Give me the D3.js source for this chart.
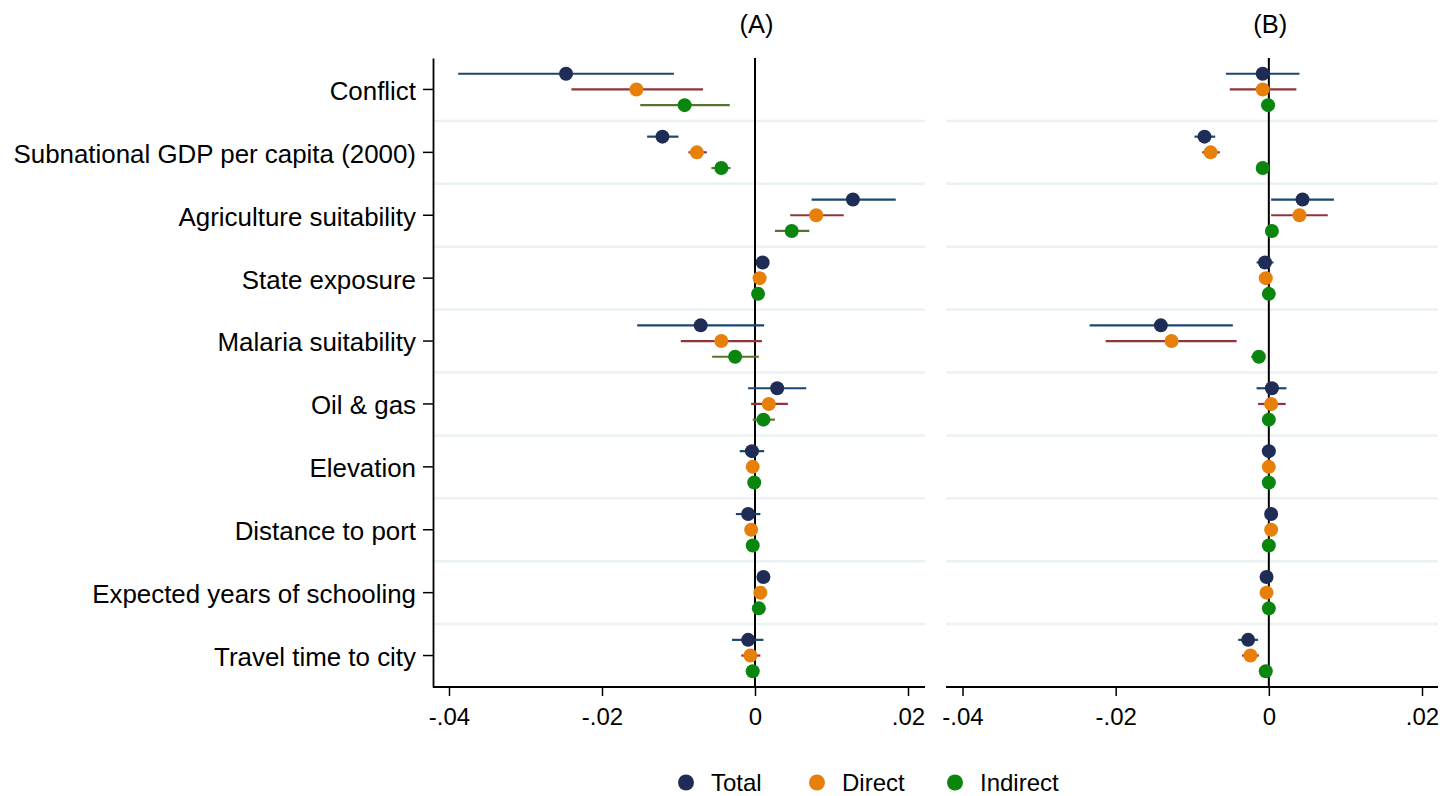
<!DOCTYPE html>
<html lang="en">
<head>
<meta charset="UTF-8">
<title>Total, direct and indirect effects</title>
<script src="https://d3js.org/d3.v7.min.js"></script>
<style>
    body { margin: 0; background: #fff; font-family: "Liberation Sans", Arial, Helvetica, sans-serif; }
    svg { display: block; }
</style>
</head>
<body>
<div id="chart"></div>
<script>
    // Categories, top to bottom
    const categories = [
        "Conflict",
        "Subnational GDP per capita (2000)",
        "Agriculture suitability",
        "State exposure",
        "Malaria suitability",
        "Oil & gas",
        "Elevation",
        "Distance to port",
        "Expected years of schooling",
        "Travel time to city"
    ];

    // [estimate, lower CI, upper CI] per category — panel (A)
    const totalA = [
        [-0.0247, -0.0388, -0.0106],
        [-0.0121, -0.0141, -0.0100],
        [ 0.0128,  0.0074,  0.0184],
        [ 0.0010,  0.0008,  0.0012],
        [-0.0071, -0.0154,  0.0012],
        [ 0.0029, -0.0009,  0.0067],
        [-0.0004, -0.0020,  0.0012],
        [-0.0009, -0.0025,  0.0007],
        [ 0.0011,  0.0009,  0.0013],
        [-0.0009, -0.0030,  0.0011]
    ];
    const directA = [
        [-0.0155, -0.0240, -0.0068],
        [-0.0076, -0.0087, -0.0063],
        [ 0.0080,  0.0046,  0.0116],
        [ 0.0006,  0.0004,  0.0008],
        [-0.0044, -0.0097,  0.0009],
        [ 0.0018, -0.0005,  0.0043],
        [-0.0003, -0.0008,  0.0003],
        [-0.0005, -0.0008, -0.0002],
        [ 0.0007,  0.0005,  0.0009],
        [-0.0006, -0.0018,  0.0007]
    ];
    const indirectA = [
        [-0.0092, -0.0150, -0.0033],
        [-0.0044, -0.0057, -0.0032],
        [ 0.0048,  0.0026,  0.0071],
        [ 0.0004,  0.0003,  0.0005],
        [-0.0026, -0.0056,  0.0005],
        [ 0.0011, -0.0003,  0.0026],
        [-0.0001, -0.0002,  0.0000],
        [-0.0003, -0.0004, -0.0002],
        [ 0.0005,  0.0004,  0.0006],
        [-0.0003, -0.0004, -0.0002]
    ];

    // panel (B)
    const totalB = [
        [-0.0008, -0.0056,  0.0040],
        [-0.0084, -0.0097, -0.0070],
        [ 0.0044,  0.0003,  0.0085],
        [-0.0005, -0.0016,  0.0006],
        [-0.0141, -0.0234, -0.0047],
        [ 0.0004, -0.0016,  0.0023],
        [ 0.0000, -0.0004,  0.0004],
        [ 0.0003, -0.0001,  0.0007],
        [-0.0003, -0.0005, -0.0001],
        [-0.0027, -0.0040, -0.0014]
    ];
    const directB = [
        [-0.0008, -0.0051,  0.0036],
        [-0.0076, -0.0087, -0.0064],
        [ 0.0040,  0.0003,  0.0077],
        [-0.0004, -0.0010,  0.0002],
        [-0.0127, -0.0213, -0.0042],
        [ 0.0003, -0.0014,  0.0022],
        [ 0.0000, -0.0003,  0.0003],
        [ 0.0003,  0.0000,  0.0006],
        [-0.0003, -0.0005, -0.0001],
        [-0.0024, -0.0035, -0.0013]
    ];
    const indirectB = [
        [-0.0001, -0.0002,  0.0000],
        [-0.0008, -0.0009, -0.0007],
        [ 0.0004,  0.0003,  0.0005],
        [ 0.0000, -0.0001,  0.0001],
        [-0.0013, -0.0023, -0.0008],
        [ 0.0000, -0.0001,  0.0001],
        [ 0.0000, -0.0001,  0.0001],
        [ 0.0000, -0.0001,  0.0001],
        [ 0.0000, -0.0001,  0.0001],
        [-0.0004, -0.0005, -0.0003]
    ];

    const xTicks = [-0.04, -0.02, 0, 0.02];
    const seriesNames = ["Total", "Direct", "Indirect"];
    const panelTitles = ["(A)", "(B)"];

    // styles
    const dotColors = ["#1f2d56", "#e7800a", "#0a860f"];
    const ciColors = ["#1a476f", "#90353b", "#55752f"];
    const offsets = [-15.7, 0, 15.7];

    const W = 1443, H = 796;
    const plotTop = 58, plotBottom = 687;

    const svg = d3.select("#chart").append("svg")
        .attr("width", W)
        .attr("height", H);

    svg.append("rect").attr("width", W).attr("height", H).attr("fill", "#fff");

    const y = d3.scaleBand()
        .domain(categories)
        .range([plotTop, plotBottom]);

    const panels = [
        { title: panelTitles[0], series: [totalA, directA, indirectA], left: 433, right: 925, range: [449, 908], yAxis: true },
        { title: panelTitles[1], series: [totalB, directB, indirectB], left: 946, right: 1438, range: [962.5, 1422], yAxis: false }
    ];

    // Stata-style labels: -.04, 0, .02 (plain hyphen)
    const fmt = d => d === 0 ? "0" : d3.format(".2f")(d).replace("−", "-").replace("0.", ".");

    panels.forEach(p => {
        const x = d3.scaleLinear().domain([-0.04, 0.02]).range(p.range);
        const g = svg.append("g");

        // separators between categories
        g.selectAll(".sep")
            .data(categories.slice(1))
            .enter()
            .append("line")
            .attr("x1", p.left)
            .attr("x2", p.right)
            .attr("y1", d => y(d))
            .attr("y2", d => y(d))
            .attr("stroke", "#eaf2f3")
            .attr("stroke-width", 2.5);

        // zero line
        g.append("line")
            .attr("x1", x(0)).attr("x2", x(0))
            .attr("y1", plotTop).attr("y2", plotBottom)
            .attr("stroke", "#000")
            .attr("stroke-width", 2);

        // x axis
        const xAxis = g.append("g")
            .attr("transform", `translate(0, ${plotBottom})`)
            .call(d3.axisBottom(x).tickValues(xTicks).tickFormat(fmt).tickSize(9).tickPadding(12));
        xAxis.select(".domain").remove();
        xAxis.selectAll(".tick line").attr("stroke", "#000").attr("stroke-width", 1.5);
        xAxis.selectAll(".tick text")
            .attr("fill", "#000")
            .style("font-size", "24px")
            .style("font-family", "'Liberation Sans', Arial, sans-serif");
        g.append("line")
            .attr("x1", p.left).attr("x2", p.right)
            .attr("y1", plotBottom).attr("y2", plotBottom)
            .attr("stroke", "#000")
            .attr("stroke-width", 1.8);

        // y axis (left panel only)
        if (p.yAxis) {
            const yAxis = g.append("g")
                .attr("transform", `translate(${p.left}, 0)`)
                .call(d3.axisLeft(y).tickSize(10).tickSizeOuter(0).tickPadding(7));
            yAxis.select(".domain").attr("stroke", "#000").attr("stroke-width", 1.8);
            yAxis.selectAll(".tick line").attr("stroke", "#000").attr("stroke-width", 1.5);
            yAxis.selectAll(".tick text")
                .attr("fill", "#000")
                .attr("dy", "0.4em")
                .style("font-size", "25.9px")
                .style("font-family", "'Liberation Sans', Arial, sans-serif");
        }

        // confidence intervals then dots
        p.series.forEach((s, si) => {
            g.selectAll(".ci" + si)
                .data(s)
                .enter()
                .append("line")
                .attr("x1", d => x(d[1]))
                .attr("x2", d => x(d[2]))
                .attr("y1", (d, i) => y(categories[i]) + y.bandwidth() / 2 + offsets[si])
                .attr("y2", (d, i) => y(categories[i]) + y.bandwidth() / 2 + offsets[si])
                .attr("stroke", ciColors[si])
                .attr("stroke-width", 2.2);
        });
        p.series.forEach((s, si) => {
            g.selectAll(".dot" + si)
                .data(s)
                .enter()
                .append("circle")
                .attr("cx", d => x(d[0]))
                .attr("cy", (d, i) => y(categories[i]) + y.bandwidth() / 2 + offsets[si])
                .attr("r", 7)
                .attr("fill", dotColors[si]);
        });

        // panel title
        g.append("text")
            .attr("x", x(0) + 1.5)
            .attr("y", 33)
            .attr("text-anchor", "middle")
            .style("font-size", "25.5px")
            .text(p.title);
    });

    // legend
    const legendX = [686, 817, 955];
    const legend = svg.append("g");
    seriesNames.forEach((name, i) => {
        legend.append("circle")
            .attr("cx", legendX[i])
            .attr("cy", 782.5)
            .attr("r", 8)
            .attr("fill", dotColors[i]);
        legend.append("text")
            .attr("x", legendX[i] + 25)
            .attr("y", 791)
            .style("font-size", "24px")
            .text(name);
    });
</script>
</body>
</html>
